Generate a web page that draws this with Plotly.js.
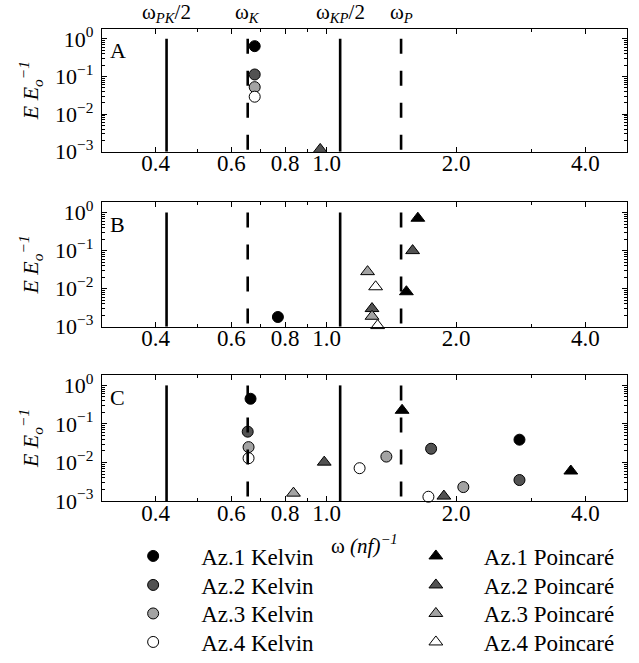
<!DOCTYPE html>
<html><head><meta charset="utf-8">
<script src="https://cdn.plot.ly/plotly-3.0.1.min.js"></script>
<style>html,body{margin:0;padding:0;background:#fff}</style>
</head><body><div id="chart" style="width:639px;height:663px"></div>
<script>
// ---------- data ----------
const omegaLabels = ['ω<sub><i>PK</i></sub>/2', 'ω<sub><i>K</i></sub>', 'ω<sub><i>KP</i></sub>/2', 'ω<sub><i>P</i></sub>'];
const omegaValues = [0.424, 0.655, 1.075, 1.49];
const xTickValues = [0.4, 0.6, 0.8, 1, 2, 4];
const xTickLabels = ['0.4', '0.6', '0.8', '1.0', '2.0', '4.0'];
const yTickValues = [1e-3, 1e-2, 1e-1, 1];
const yTickLabels = ['10<sup>−3</sup>', '10<sup>−2</sup>', '10<sup>−1</sup>', '10<sup>0</sup>'];
const panelNames = ['A', 'B', 'C'];
const seriesNames = ['Az.1 Kelvin', 'Az.2 Kelvin', 'Az.3 Kelvin', 'Az.4 Kelvin',
                     'Az.1 Poincaré', 'Az.2 Poincaré', 'Az.3 Poincaré', 'Az.4 Poincaré'];

// Panel A
const az1KelvinA_x = [0.68];   const az1KelvinA_y = [0.64];
const az2KelvinA_x = [0.68];   const az2KelvinA_y = [0.113];
const az3KelvinA_x = [0.68];   const az3KelvinA_y = [0.052];
const az4KelvinA_x = [0.68];   const az4KelvinA_y = [0.029];
const az2PoincareA_x = [0.966]; const az2PoincareA_y = [0.00115];
// Panel B
const az1KelvinB_x = [0.77];   const az1KelvinB_y = [0.0018];
const az1PoincareB_x = [1.63, 1.533];  const az1PoincareB_y = [0.71, 0.0083];
const az2PoincareB_x = [1.585, 1.275]; const az2PoincareB_y = [0.10, 0.0030];
const az3PoincareB_x = [1.245, 1.275]; const az3PoincareB_y = [0.028, 0.00188];
const az4PoincareB_x = [1.30, 1.314];  const az4PoincareB_y = [0.0112, 0.00107];
// Panel C
const az1KelvinC_x = [0.665, 2.81];        const az1KelvinC_y = [0.45, 0.039];
const az2KelvinC_x = [0.655, 1.75, 2.81];  const az2KelvinC_y = [0.063, 0.0227, 0.0035];
const az3KelvinC_x = [0.658, 1.377, 2.08]; const az3KelvinC_y = [0.025, 0.0142, 0.0023];
const az4KelvinC_x = [0.658, 1.193, 1.725]; const az4KelvinC_y = [0.0129, 0.0071, 0.00129];
const az1PoincareC_x = [1.498, 3.7];   const az1PoincareC_y = [0.226, 0.006];
const az2PoincareC_x = [0.987, 1.874]; const az2PoincareC_y = [0.0102, 0.00134];
const az3PoincareC_x = [0.837];        const az3PoincareC_y = [0.0016];

// ---------- assemble ----------
const seriesData = {
  'Az.1 Kelvin':   {A: [az1KelvinA_x, az1KelvinA_y], B: [az1KelvinB_x, az1KelvinB_y], C: [az1KelvinC_x, az1KelvinC_y]},
  'Az.2 Kelvin':   {A: [az2KelvinA_x, az2KelvinA_y], C: [az2KelvinC_x, az2KelvinC_y]},
  'Az.3 Kelvin':   {A: [az3KelvinA_x, az3KelvinA_y], C: [az3KelvinC_x, az3KelvinC_y]},
  'Az.4 Kelvin':   {A: [az4KelvinA_x, az4KelvinA_y], C: [az4KelvinC_x, az4KelvinC_y]},
  'Az.1 Poincaré': {B: [az1PoincareB_x, az1PoincareB_y], C: [az1PoincareC_x, az1PoincareC_y]},
  'Az.2 Poincaré': {A: [az2PoincareA_x, az2PoincareA_y], B: [az2PoincareB_x, az2PoincareB_y], C: [az2PoincareC_x, az2PoincareC_y]},
  'Az.3 Poincaré': {B: [az3PoincareB_x, az3PoincareB_y], C: [az3PoincareC_x, az3PoincareC_y]},
  'Az.4 Poincaré': {B: [az4PoincareB_x, az4PoincareB_y]}
};

// ---------- styles ----------
const FONT = '"Liberation Serif", serif';
const fillColors = ['#000000', '#525252', '#a3a3a3', '#ffffff'];
const lineDashes = ['solid', '15px,17px', 'solid', '15px,17px'];
const axisSuffix = ['', '2', '3'];
const legendIds = ['legend', 'legend2', 'legend3', 'legend4', 'legend5', 'legend6', 'legend7', 'legend8'];
const legendRowPx = [556, 585, 613.5, 642];
const legendColX = [0.006, 0.5445];

const traces = [];
seriesNames.forEach((name, si) => {
  const isKelvin = si < 4;
  let first = true;
  panelNames.forEach((p, pi) => {
    const d = seriesData[name][p];
    if (!d) return;
    traces.push({
      type: 'scatter', mode: 'markers', name: name,
      x: d[0], y: d[1],
      xaxis: 'x' + axisSuffix[pi], yaxis: 'y' + axisSuffix[pi],
      legendgroup: name, showlegend: first,
      legend: legendIds[si],
      cliponaxis: false,
      marker: {
        symbol: isKelvin ? 'circle' : 'triangle-up',
        size: isKelvin ? 11 : 12,
        color: fillColors[si % 4],
        line: {color: '#000', width: 1}
      }
    });
    first = false;
  });
});

// vertical reference lines (drawn on top of markers)
panelNames.forEach((p, pi) => {
  omegaValues.forEach((w, i) => {
    traces.push({
      type: 'scatter', mode: 'lines', showlegend: false, hoverinfo: 'skip',
      x: [w, w], y: [1, 1e-3],
      xaxis: 'x' + axisSuffix[pi], yaxis: 'y' + axisSuffix[pi],
      line: {color: '#000', width: 2.6, dash: lineDashes[i]}
    });
  });
});

const yMinor = [];
for (let e = -4; e <= 0; e++) for (let k = 2; k <= 9; k++) yMinor.push(k * Math.pow(10, e));
const xMinor = [0.3, 0.5, 0.7, 0.9, 3, 5];

function xAxis(anchor) {
  return {
    type: 'log', range: [Math.log10(0.3), Math.log10(5)], anchor: anchor,
    tickmode: 'array', tickvals: xTickValues, ticktext: xTickLabels,
    ticks: 'inside', ticklen: 5, tickwidth: 1, tickcolor: '#000',
    minor: {tickmode: 'array', tickvals: xMinor, ticks: 'inside', ticklen: 3, tickcolor: '#000', showgrid: false},
    showline: true, linecolor: '#000', linewidth: 1.2, mirror: 'allticks',
    showgrid: false, zeroline: false, automargin: false,
    tickfont: {family: FONT, size: 23, color: '#000'}, ticklabelstandoff: -9
  };
}
function yAxis(anchor, domain) {
  return {
    type: 'log', range: [-3, 0.27], anchor: anchor, domain: domain,
    tickmode: 'array', tickvals: yTickValues, ticktext: yTickLabels,
    ticks: 'inside', ticklen: 5, tickwidth: 1, tickcolor: '#000',
    minor: {tickmode: 'array', tickvals: yMinor, ticks: 'inside', ticklen: 3, tickcolor: '#000', showgrid: false},
    showline: true, linecolor: '#000', linewidth: 1.2, mirror: 'allticks',
    showgrid: false, zeroline: false, automargin: false,
    tickfont: {family: FONT, size: 22, color: '#000'}, ticklabelstandoff: 3,
    title: {text: '<i>E E</i><sub><i>o</i></sub><sup><i>−1</i></sup>', font: {family: FONT, size: 22, color: '#000'}, standoff: 10}
  };
}

const annotations = [];
panelNames.forEach((p, pi) => {
  annotations.push({
    text: p, xref: 'x' + axisSuffix[pi] + ' domain', yref: 'y' + axisSuffix[pi] + ' domain',
    x: 0.012, y: 0.82, xanchor: 'left', yanchor: 'middle', showarrow: false,
    font: {family: FONT, size: 22, color: '#000'}
  });
});
omegaValues.forEach((w, i) => {
  annotations.push({
    text: omegaLabels[i], xref: 'x', yref: 'paper',
    x: Math.log10(w), y: 1.0, xanchor: 'center', yanchor: 'bottom', showarrow: false,
    font: {family: FONT, size: 21, color: '#000'}
  });
});
// x-axis title of the bottom panel
annotations.push({
  text: 'ω <i>(nf)</i><sup><i>−1</i></sup>', xref: 'x3 domain', yref: 'paper',
  x: 0.5, y: -0.093, xanchor: 'center', yanchor: 'middle', showarrow: false,
  font: {family: FONT, size: 21, color: '#000'}
});

const layout = {
  width: 639, height: 663,
  margin: {l: 102, r: 12, t: 28, b: 162},
  paper_bgcolor: '#fff', plot_bgcolor: '#fff',
  font: {family: FONT, color: '#000'},
  xaxis: xAxis('y'), xaxis2: xAxis('y2'), xaxis3: xAxis('y3'),
  yaxis: yAxis('x', [0.7385, 0.9985]),
  yaxis2: yAxis('x2', [0.3685, 0.6315]),
  yaxis3: yAxis('x3', [0, 0.2664]),
  annotations: annotations,
  showlegend: true
};
legendIds.forEach((id, i) => {
  layout[id] = {
    x: legendColX[Math.floor(i / 4)], xanchor: 'left',
    yref: 'container', y: 1 - legendRowPx[i % 4] / 663, yanchor: 'middle',
    orientation: 'v', itemwidth: 86, tracegroupgap: 0, bgcolor: 'rgba(0,0,0,0)',
    font: {family: FONT, size: 23, color: '#000'}
  };
});

Plotly.newPlot('chart', traces, layout, {displayModeBar: false, staticPlot: true});
</script></body></html>
